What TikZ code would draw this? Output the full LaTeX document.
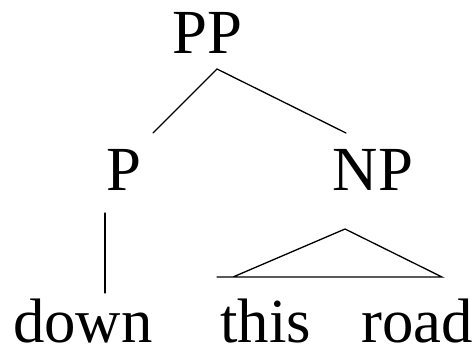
\documentclass[tikz,border=0pt]{standalone}
\usepackage{fontspec}
\setmainfont{Liberation Serif}
\begin{document}
\begin{tikzpicture}[x=1bp,y=1bp,
  lbl/.style={inner sep=0pt,anchor=base,font=\fontsize{63}{70}\selectfont},
  edge/.style={line width=1.3bp,line cap=round}]
\useasboundingbox (0,0) rectangle (474,349);
% category labels and words
\node[lbl] (pp) at (207.5,296) {PP};
\node[lbl] (p) at (124,159) {P};
\node[lbl] (np) at (373,159) {NP};
\node[lbl,anchor=base west] (down) at (13,7) {down};
\node[lbl,anchor=base west] (this) at (220,7) {this};
\node[lbl,anchor=base east] (road) at (473,7) {road};
% branch end points
\coordinate (ppTop) at (217,280);
\coordinate (pEnd) at (153,216);
\coordinate (npEnd) at (346,216);
\coordinate (pLow) at (105,136);
\coordinate (downTop) at (105,56);
\coordinate (triTop) at (345,120);
\coordinate (triL) at (233,72);
\coordinate (baseL) at (217,72);
\coordinate (triR) at (442,72);
% branches
\draw[edge] (pEnd) -- (ppTop) -- (npEnd);
\draw[edge] (pLow) -- (downTop);
\draw[edge] (baseL) -- (triR) -- (triTop) -- (triL);
\end{tikzpicture}
\end{document}
